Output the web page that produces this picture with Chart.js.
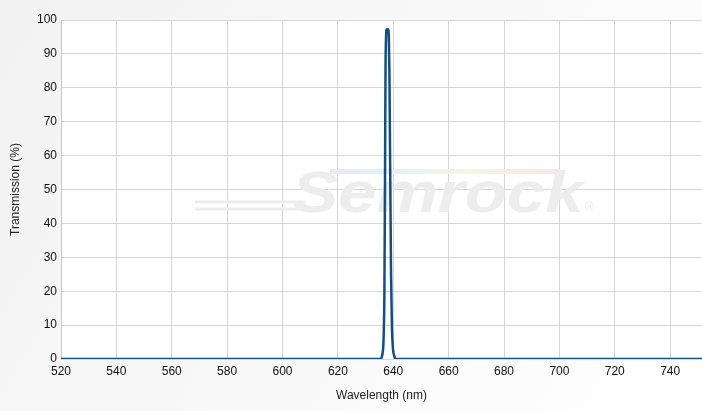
<!DOCTYPE html>
<html>
<head>
<meta charset="utf-8">
<script src="https://cdn.jsdelivr.net/npm/chart.js@4.4.1/dist/chart.umd.min.js"></script>
<style>
  html, body { margin: 0; padding: 0; background: #fff; }
  #wrap { width: 702px; height: 411px; }
</style>
</head>
<body>
<div id="wrap"><canvas id="chart" width="702" height="411"></canvas></div>
<script>
// Filter transmission curve
const wavelength = [520, 635.3, 635.8, 636.2, 636.5, 636.8, 637.0, 637.2, 637.4, 637.7, 638.1, 638.4, 638.6, 638.8, 639.0, 639.2, 639.5, 639.9, 640.4, 641.0, 751.5];
const transmission = [0, 0, 0.5, 2, 6, 20, 50, 85, 95, 97.3, 97.3, 95, 85, 65, 45, 25, 10, 3, 0.8, 0, 0];

const xMin = 520, xMax = 751.5, xStep = 20;
const yMin = 0, yMax = 100, yStep = 10;

const points = wavelength.map((w, i) => ({ x: w, y: transmission[i] }));

// background + watermark
const backdrop = {
    id: 'backdrop',
    beforeDraw(chart) {
        const { ctx, chartArea: a, width, height } = chart;
        ctx.save();
        const g = ctx.createLinearGradient(0, 0, width, height);
        g.addColorStop(0, '#f2f2f2');
        g.addColorStop(1, '#ffffff');
        ctx.fillStyle = g;
        ctx.fillRect(0, 0, width, height);
        ctx.fillStyle = '#ffffff';
        ctx.fillRect(a.left, a.top, a.right - a.left, a.bottom - a.top);
        ctx.restore();
    },
    beforeDatasetsDraw(chart) {
        const { ctx } = chart;
        ctx.save();
        // rainbow stripe
        const rg = ctx.createLinearGradient(330, 0, 560, 0);
        ['#e8e8f8', '#e4eefa', '#e6f6ee', '#f6f6e2', '#f8ece2', '#f8e6e6'].forEach((c, i, arr) => rg.addColorStop(i / (arr.length - 1), c));
        ctx.fillStyle = rg;
        ctx.fillRect(330, 169, 230, 5);
        // tail lines
        ctx.strokeStyle = '#ededed';
        ctx.lineWidth = 3;
        ctx.beginPath();
        ctx.moveTo(195, 202); ctx.lineTo(305, 202);
        ctx.moveTo(195, 209); ctx.lineTo(305, 209);
        ctx.stroke();
        ctx.fillStyle = '#ededed';
        ctx.translate(292, 212);
        ctx.scale(1.19, 1);
        ctx.font = 'italic bold 58px "Liberation Sans", Arial, sans-serif';
        ctx.textBaseline = 'alphabetic';
        ctx.fillText('Semrock', 0, 0);
        ctx.setTransform(1, 0, 0, 1, 0, 0);
        ctx.font = '12px "Liberation Sans", Arial, sans-serif';
        ctx.fillText('®', 585, 211);
        ctx.restore();
    }
};

const font = { family: '"Liberation Sans", Arial, sans-serif', size: 12 };

new Chart(document.getElementById('chart').getContext('2d'), {
    type: 'line',
    data: {
        datasets: [{
            label: 'Transmission',
            data: points,
            borderColor: '#124e80',
            borderWidth: 2.5,
            pointRadius: 0,
            fill: false,
            cubicInterpolationMode: 'monotone'
        }]
    },
    options: {
        responsive: false,
        animation: false,
        layout: { padding: { top: 20, right: 0, left: 0, bottom: 0 } },
        plugins: { legend: { display: false }, tooltip: { enabled: false } },
        scales: {
            x: {
                type: 'linear',
                min: xMin, max: xMax,
                ticks: { stepSize: xStep, includeBounds: false, color: '#111', font, padding: 5, maxRotation: 0 },
                grid: { color: '#d6d6d6', drawTicks: false },
                border: { color: '#d6d6d6' },
                title: { display: true, text: 'Wavelength (nm)', color: '#222', font, padding: { top: 4, bottom: 8 } },
                afterFit(s) { s.height = 52; }
            },
            y: {
                min: yMin, max: yMax,
                ticks: { stepSize: yStep, color: '#111', font, padding: 4 },
                grid: { color: '#d6d6d6', drawTicks: false },
                border: { color: '#c8c8c8' },
                title: { display: true, text: 'Transmission (%)', color: '#222', font, padding: { top: 8, bottom: 0 } },
                afterFit(s) { s.width = 61; }
            }
        }
    },
    plugins: [backdrop]
});
</script>
</body>
</html>
